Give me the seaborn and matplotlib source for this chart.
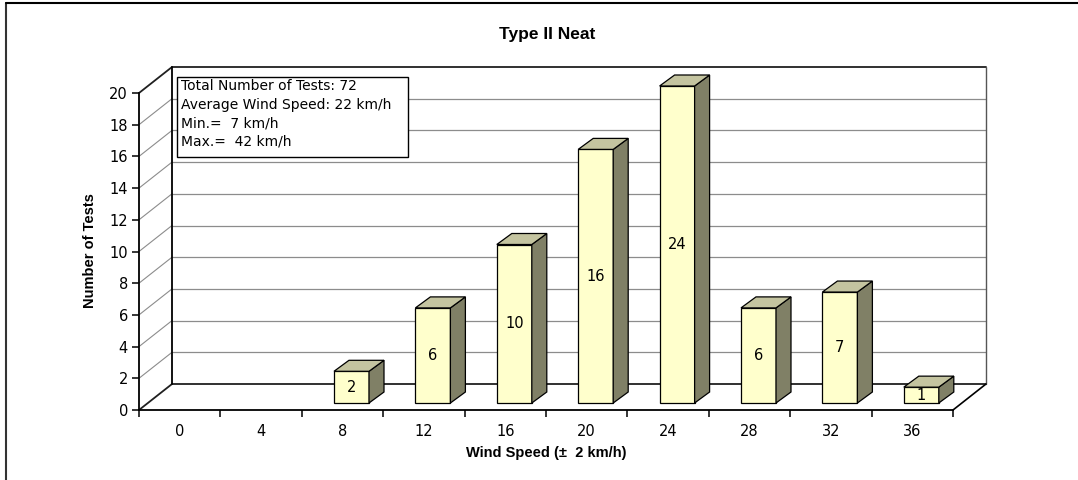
import numpy as np
import pandas as pd
import matplotlib
matplotlib.use("Agg")
import matplotlib.pyplot as plt
import seaborn as sns
from matplotlib.patches import Polygon, Rectangle
from matplotlib.lines import Line2D

# data
speeds = ["0", "4", "8", "12", "16", "20", "24", "28", "32", "36"]
counts = [0, 0, 2, 6, 10, 16, 24, 6, 7, 1]
y_ticks = [0, 2, 4, 6, 8, 10, 12, 14, 16, 18, 20]
y_max = 20
title = "Type II Neat"
x_label = "Wind Speed (\u00b1  2 km/h)"
y_label = "Number of Tests"
info_lines = ["Total Number of Tests: 72", "Average Wind Speed: 22 km/h",
              "Min.=  7 km/h", "Max.=  42 km/h"]

sns.set_theme(style="white")
plt.rcParams['font.family'] = ['DejaVu Sans']
plt.rcParams.update({'text.color': 'black', 'axes.labelcolor': 'black',
                     'xtick.color': 'black', 'ytick.color': 'black'})
bold_font = ['Liberation Sans', 'DejaVu Sans']

W, H = 1078, 480
fig = plt.figure(figsize=(W / 100, H / 100), dpi=100)
ax = fig.add_axes([139 / W, (H - 410) / H, 847 / W, 343 / H])

# pseudo-3D geometry (in data units)
px_x, px_y = 81.4, 15.85
wall_dx, wall_dy = 33 / px_x, 26 / px_y
bar_off_x, bar_off_y = 9 / px_x, 7 / px_y
bar_dx, bar_dy = 15 / px_x, 11 / px_y
bar_w = 35 / px_x

# axis max clips the tallest bar (Excel style)
df = pd.DataFrame({'speed': speeds, 'tests': np.minimum(counts, y_max)})
sns.barplot(data=df, x='speed', y='tests', width=bar_w, color='#FFFFCC',
            saturation=1, edgecolor='black', linewidth=0.9, ax=ax, zorder=3)

ax.set_xlim(-0.5, 9.5 + wall_dx)
ax.set_ylim(0, y_max + wall_dy)

# walls and gridlines
x0, x1 = -0.5, len(speeds) - 0.5
for v in y_ticks:
    dark = v in (0, y_max)
    col = '#202020' if dark else '#8c8c8c'
    lw = 1.3 if dark else 0.9
    ax.plot([x0 + wall_dx, x1 + wall_dx], [v + wall_dy, v + wall_dy], color=col, lw=lw, zorder=1, clip_on=False)
    ax.plot([x0, x0 + wall_dx], [v, v + wall_dy], color=col, lw=lw if dark else 0.8, zorder=1, clip_on=False)
ax.plot([x0 + wall_dx, x0 + wall_dx], [wall_dy, y_max + wall_dy], color='black', lw=1.3, zorder=1, clip_on=False)
ax.plot([x1 + wall_dx, x1 + wall_dx], [wall_dy, y_max + wall_dy], color='#555555', lw=1.0, zorder=1, clip_on=False)
ax.plot([x1, x1 + wall_dx], [0, wall_dy], color='black', lw=1.2, zorder=1, clip_on=False)

# 3D bar faces
for p, n in zip(ax.patches, counts):
    if n == 0:
        p.set_visible(False)
        continue
    p.set_x(p.get_x() + bar_off_x)
    p.set_y(bar_off_y)
    x, w, h = p.get_x(), p.get_width(), p.get_height()
    yb, yt = bar_off_y, bar_off_y + h
    side = Polygon([(x + w, yb), (x + w + bar_dx, yb + bar_dy), (x + w + bar_dx, yt + bar_dy), (x + w, yt)],
                   closed=True, fc='#808066', ec='black', lw=0.9, zorder=3)
    top = Polygon([(x, yt), (x + bar_dx, yt + bar_dy), (x + w + bar_dx, yt + bar_dy), (x + w, yt)],
                  closed=True, fc='#C4C4A0', ec='black', lw=0.9, zorder=3)
    ax.add_patch(side)
    ax.add_patch(top)
    ax.text(x + w / 2, yb + h / 2, str(n), ha='center', va='center', fontsize=10.5, zorder=4)

# axes
sns.despine(ax=ax, top=True, right=True)
ax.spines['left'].set_bounds(0, y_max)
ax.spines['bottom'].set_bounds(x0, x1)
for s in ('left', 'bottom'):
    ax.spines[s].set_color('black')
    ax.spines[s].set_linewidth(1.3)
    ax.spines[s].set_zorder(5)
ax.set_yticks(y_ticks)
ax.set_yticklabels([str(v) for v in y_ticks], fontsize=10.5)
ax.set_xticks(range(len(speeds)))
ax.set_xticklabels(speeds, fontsize=10.5)
ax.set_xticks(np.arange(x0, x1 + 0.01, 1), minor=True)
ax.tick_params(axis='y', which='major', left=True, direction='out', length=5, width=1.1, color='black', pad=3)
ax.tick_params(axis='x', which='major', bottom=True, length=0, pad=10)
ax.tick_params(axis='x', which='minor', bottom=True, direction='out', length=5, width=1.1, color='black')
ax.grid(False)

ax.set_xlabel(x_label, fontsize=10.5, fontweight='bold', family=bold_font)
ax.set_ylabel(y_label, fontsize=10.5, fontweight='bold', family=bold_font)
ax.xaxis.set_label_coords((546 - 139) / 847, (410 - 446) / 343)
ax.yaxis.set_label_coords((97 - 139) / 847, (410 - 251) / 343)

fig.text(547 / W, 1 - 35 / H, title, ha='center', va='center', fontsize=12.5,
         fontweight='bold', family=bold_font)

# info box
fig.add_artist(Rectangle((177 / W, 1 - 157 / H), (408 - 177) / W, 80 / H,
                         transform=fig.transFigure, fc='white', ec='black', lw=1.0, zorder=6))
fig.text(181 / W, 1 - 79 / H, "\n".join(info_lines), ha='left', va='top', fontsize=10,
         linespacing=1.42, zorder=7)

# figure border (left and top only visible)
fig.add_artist(Line2D([5.5 / W, 5.5 / W], [0, 1 - 3 / H], color='#333333', lw=1.5))
fig.add_artist(Line2D([5.5 / W, 1], [1 - 3 / H, 1 - 3 / H], color='black', lw=1.5))

fig.savefig('out.png', dpi=100)
